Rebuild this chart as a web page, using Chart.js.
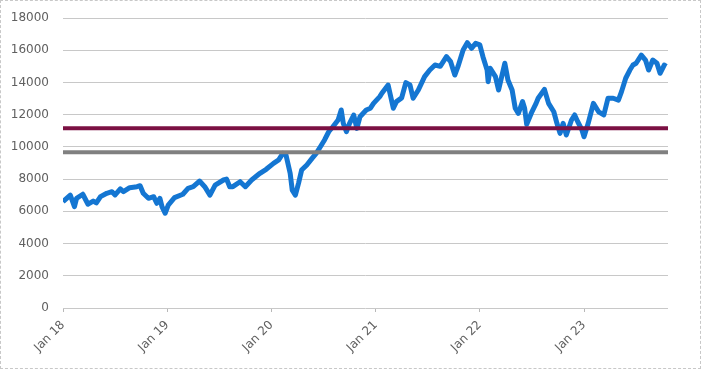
<!DOCTYPE html>
<html>
<head>
<meta charset="utf-8">
<script src="https://cdn.jsdelivr.net/npm/chart.js@4/dist/chart.umd.min.js"></script>
<style>
  body { margin: 0; background: #fff; }
  #wrap { width: 699px; height: 367px; border: 1px dashed #c8c8c8; }
  #chart { display: block; }
</style>
</head>
<body>
<div id="wrap">
  <canvas id="chart" width="699" height="367"></canvas>
</div>
<script>
// time in decimal years, index level
var times = [
  2018.00, 2018.07, 2018.11, 2018.13, 2018.19, 2018.24, 2018.29, 2018.32, 2018.36, 2018.42,
  2018.47, 2018.50, 2018.55, 2018.58, 2018.64, 2018.71, 2018.74, 2018.77, 2018.82, 2018.87,
  2018.90, 2018.93, 2018.95, 2018.98, 2019.01, 2019.07, 2019.15, 2019.20, 2019.25, 2019.31,
  2019.36, 2019.41, 2019.46, 2019.54, 2019.57, 2019.60, 2019.63, 2019.70, 2019.75, 2019.81,
  2019.89, 2019.95, 2020.02, 2020.07, 2020.11, 2020.14, 2020.18, 2020.20, 2020.23, 2020.26,
  2020.29, 2020.34, 2020.39, 2020.43, 2020.47, 2020.51, 2020.55, 2020.59, 2020.64, 2020.67,
  2020.69, 2020.72, 2020.75, 2020.79, 2020.82, 2020.85, 2020.91, 2020.95, 2020.98, 2021.04,
  2021.06, 2021.12, 2021.17, 2021.20, 2021.25, 2021.29, 2021.33, 2021.36, 2021.41, 2021.47,
  2021.52, 2021.57, 2021.62, 2021.68, 2021.72, 2021.76, 2021.79, 2021.84, 2021.88, 2021.92,
  2021.96, 2022.00, 2022.03, 2022.07, 2022.08, 2022.10, 2022.15, 2022.18, 2022.21, 2022.24,
  2022.27, 2022.31, 2022.34, 2022.37, 2022.41, 2022.43, 2022.45, 2022.50, 2022.54, 2022.56,
  2022.62, 2022.66, 2022.71, 2022.74, 2022.77, 2022.80, 2022.83, 2022.88, 2022.91, 2022.94,
  2022.98, 2023.00, 2023.04, 2023.09, 2023.14, 2023.19, 2023.23, 2023.28, 2023.33, 2023.36,
  2023.40, 2023.44, 2023.47, 2023.50, 2023.55, 2023.59, 2023.62, 2023.66, 2023.70, 2023.73,
  2023.77, 2023.79
];
var values = [
  6600, 7010, 6290, 6810, 7060, 6440, 6640, 6520, 6910, 7120,
  7220, 7020, 7390, 7220, 7470, 7530, 7590, 7120, 6810, 6910,
  6500, 6810, 6290, 5880, 6390, 6850, 7060, 7430, 7530, 7880,
  7530, 7010, 7630, 7945, 8000, 7530, 7530, 7840, 7530, 7945,
  8360, 8610, 8980, 9190, 9600, 9500, 8360, 7320, 7010, 7740,
  8560, 8880, 9290, 9600, 10010, 10430, 10940, 11250, 11670, 12290,
  11460, 10940, 11460, 11980, 11150, 11870, 12290, 12400, 12700, 13120,
  13330, 13840, 12400, 12810, 13040, 13990, 13840, 13020, 13530, 14360,
  14770, 15080, 15000, 15600, 15290, 14460, 14980, 16010, 16470, 16120,
  16430, 16330, 15600, 14770, 14050, 14880, 14360, 13530, 14360, 15190,
  14150, 13530, 12400, 12080, 12810, 12400, 11400, 12180, 12700, 13020,
  13570, 12700, 12180, 11460, 10840, 11460, 10740, 11670, 11980, 11560,
  11050, 10630, 11460, 12700, 12180, 11980, 13020, 13020, 12900, 13430,
  14260, 14770, 15080, 15190, 15700, 15390, 14770, 15390, 15190, 14570,
  15080, 15000
];
var upperLevel = 11150;
var lowerLevel = 9670;
var xStart = 2018;
var xEnd = 2023.806;
var yTicks = [0, 2000, 4000, 6000, 8000, 10000, 12000, 14000, 16000, 18000];

var series = times.map(function (t, i) { return { x: t, y: values[i] }; });

function flat(level) {
  return [{ x: xStart, y: level }, { x: xEnd, y: level }];
}

new Chart(document.getElementById('chart'), {
  type: 'line',
  data: {
    datasets: [
      { data: series, borderColor: '#1476d2', borderWidth: 5, pointRadius: 0, tension: 0, order: 2, borderJoinStyle: 'round' },
      { data: flat(upperLevel), borderColor: '#7b1043', borderWidth: 4, pointRadius: 0, order: 1 },
      { data: flat(lowerLevel), borderColor: '#808080', borderWidth: 4, pointRadius: 0, order: 1 }
    ]
  },
  options: {
    responsive: false,
    animation: false,
    layout: { padding: { left: 0, right: 32, top: 17, bottom: 0 } },
    plugins: { legend: { display: false }, tooltip: { enabled: false } },
    scales: {
      x: {
        type: 'linear',
        min: xStart,
        max: xEnd,
        afterFit: function (s) { s.height = 60; s.paddingLeft = 0; s.paddingRight = 0; },
        border: { display: false },
        grid: { drawOnChartArea: false, tickLength: 4, color: '#b8b8b8', lineWidth: 1 },
        ticks: {
          stepSize: 1,
          minRotation: 45,
          maxRotation: 45,
          padding: 6,
          color: '#606060',
          font: { family: 'DejaVu Sans', size: 12 },
          callback: function (v) {
            if (Math.abs(v - Math.round(v)) > 1e-6) return null;
            return 'Jan ' + String(Math.round(v)).slice(2);
          }
        }
      },
      y: {
        min: 0,
        max: 18000,
        afterFit: function (s) { s.width = 62; s.paddingTop = 0; s.paddingBottom = 0; },
        afterBuildTicks: function (s) { s.ticks = yTicks.map(function (v) { return { value: v }; }); },
        border: { display: false },
        grid: { drawTicks: false, color: '#c8c8c8', lineWidth: 1 },
        ticks: {
          padding: 14,
          color: '#606060',
          font: { family: 'DejaVu Sans', size: 12 },
          callback: function (v) { return String(v); }
        }
      }
    }
  }
});
</script>
</body>
</html>
